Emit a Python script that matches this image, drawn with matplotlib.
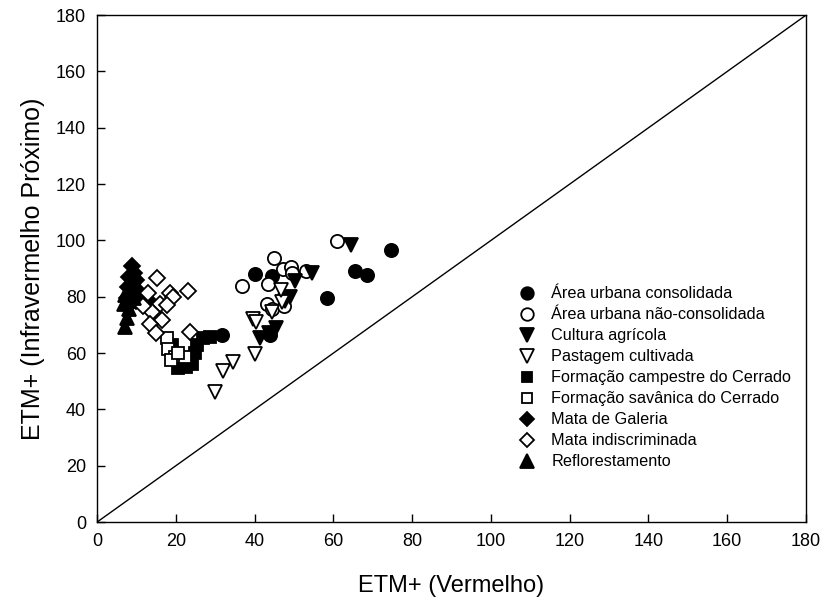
import numpy as np
import matplotlib
matplotlib.use('Agg')
import matplotlib.pyplot as plt

plt.rcParams['font.family'] = ['Liberation Sans', 'DejaVu Sans']

# values (x = ETM+ red, y = ETM+ near infrared)
urb_cons_x = [74.6, 65.5, 68.5, 58.3, 40.0, 44.3, 43.9, 31.7]
urb_cons_y = [96.6, 89.2, 87.7, 79.5, 88.0, 87.4, 66.4, 66.6]

urb_ncons_x = [60.8, 44.9, 36.7, 43.5, 47.2, 49.2, 49.6, 53.0, 43.1, 44.5, 47.5]
urb_ncons_y = [99.9, 93.8, 84.0, 84.7, 90.0, 90.5, 88.3, 89.3, 77.6, 75.5, 76.6]

agric_x = [64.6, 54.7, 50.3, 49.0, 47.6, 45.4, 43.6, 41.4]
agric_y = [98.3, 88.5, 85.6, 79.8, 78.4, 69.0, 67.2, 65.2]

past_x = [30.0, 32.0, 34.4, 40.1, 39.5, 40.3, 44.3, 46.9, 46.6]
past_y = [46.3, 53.8, 57.0, 59.6, 72.2, 71.0, 74.7, 78.3, 82.4]

campestre_x = [28.7, 27.0, 25.3, 24.9, 24.0, 22.7, 20.6, 19.0]
campestre_y = [65.8, 65.2, 62.8, 59.9, 56.3, 55.1, 54.6, 62.8]

savanica_x = [17.7, 18.1, 19.8, 22.3, 18.9, 20.5]
savanica_y = [65.3, 61.4, 58.7, 58.7, 57.5, 60.0]

galeria_x = [8.8, 9.3, 8.2, 10.0, 9.0, 7.8, 10.5, 8.5, 9.8, 11.5, 8.2, 13.5, 7.5]
galeria_y = [91.0, 88.5, 87.0, 86.0, 84.5, 83.5, 82.0, 80.5, 78.5, 77.5, 77.0, 78.0, 79.5]

mata_x = [15.3, 23.0, 13.0, 18.5, 19.4, 16.0, 17.7, 13.9, 16.4, 13.5, 15.1, 23.6, 11.7]
mata_y = [86.5, 82.0, 81.2, 81.4, 80.0, 77.6, 77.0, 74.7, 71.7, 70.5, 67.0, 67.6, 76.7]

reflo_x = [7.2, 7.5, 8.0, 7.0, 8.5, 9.5, 6.8]
reflo_y = [69.2, 72.5, 75.5, 80.5, 82.5, 79.5, 77.5]

fig, ax = plt.subplots(figsize=(8.25, 6.05), dpi=100)
fig.subplots_adjust(left=0.1176, right=0.977, bottom=0.137, top=0.975)

ax.plot([0, 180], [0, 180], color='black', lw=1)

ew = 1.3
ax.plot(urb_cons_x, urb_cons_y, 'o', ms=9.5, mfc='black', mec='black', mew=ew,
        label='Área urbana consolidada')
ax.plot(urb_ncons_x, urb_ncons_y, 'o', ms=9.5, mfc='white', mec='black', mew=ew,
        label='Área urbana não-consolidada')
ax.plot(agric_x, agric_y, 'v', ms=10, mfc='black', mec='black', mew=ew,
        label='Cultura agrícola')
ax.plot(past_x, past_y, 'v', ms=10, mfc='white', mec='black', mew=ew,
        label='Pastagem cultivada')
ax.plot(campestre_x, campestre_y, 's', ms=8, mfc='black', mec='black', mew=ew,
        label='Formação campestre do Cerrado')
ax.plot(savanica_x, savanica_y, 's', ms=8, mfc='white', mec='black', mew=ew,
        label='Formação savânica do Cerrado')
ax.plot(galeria_x, galeria_y, 'D', ms=8, mfc='black', mec='black', mew=ew,
        label='Mata de Galeria')
ax.plot(mata_x, mata_y, 'D', ms=8, mfc='white', mec='black', mew=ew,
        label='Mata indiscriminada')
ax.plot(reflo_x, reflo_y, '^', ms=10, mfc='black', mec='black', mew=ew,
        label='Reflorestamento')

ax.set_xlim(0, 180)
ax.set_ylim(0, 180)
ax.set_xticks(np.arange(0, 181, 20))
ax.set_yticks(np.arange(0, 181, 20))
ax.tick_params(direction='in', length=6, width=1, labelsize=13, pad=8)
for s in ax.spines.values():
    s.set_linewidth(1)

ax.set_xlabel('ETM+ (Vermelho)', fontsize=17, labelpad=18)
ax.set_ylabel('ETM+ (Infravermelho Próximo)', fontsize=18, labelpad=8)

ax.legend(loc='upper left', bbox_to_anchor=(0.595, 0.465), frameon=False,
          fontsize=11.7, handlelength=1.0, handletextpad=1.0, labelspacing=0.37,
          borderpad=0, borderaxespad=0, markerscale=0.95)

fig.savefig('out.png', dpi=100)
